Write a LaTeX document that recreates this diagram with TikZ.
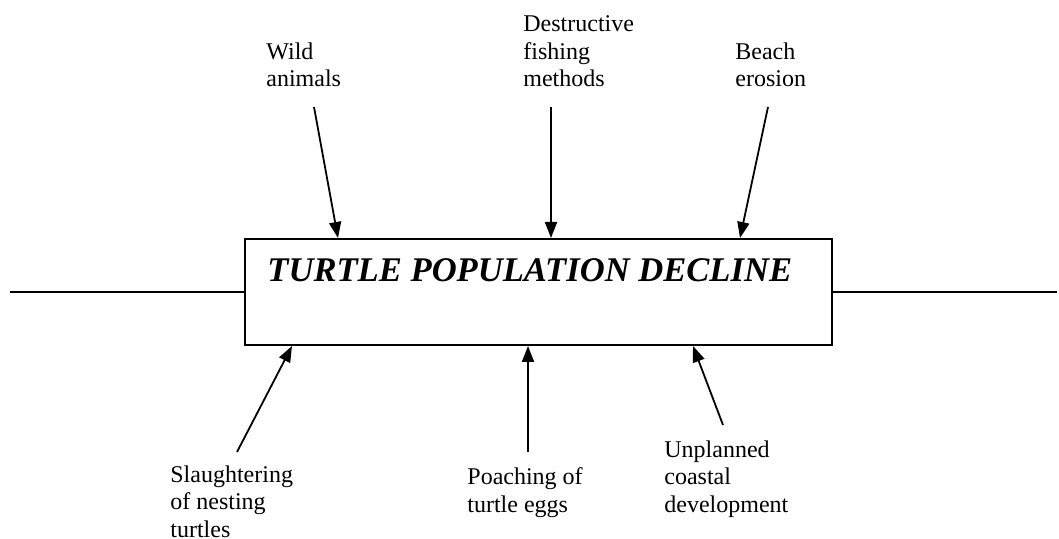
\documentclass[tikz,border=0pt]{standalone}
\usepackage{fontspec}
\setmainfont{Liberation Serif}
\usetikzlibrary{arrows.meta}

\begin{document}
\begin{tikzpicture}[x=0.5pt, y=-0.5pt,
  cause/.style={anchor=base west, align=left, inner sep=0pt,
    font=\fontsize{12pt}{13.75pt}\selectfont},
  push/.style={line width=0.9pt, -{Triangle[length=8pt, width=6pt]}},
  effect/.style={draw, line width=1pt, minimum width=293.5pt,
    minimum height=53pt, inner sep=0pt}]
\useasboundingbox (0,0) rectangle (1059,539);

% the problem box and its spine
\node[effect] (box) at (538.5,292) {};
\node[anchor=base west, inner sep=0pt,
  font=\fontsize{17.3pt}{20pt}\selectfont\bfseries\itshape] (title) at (267,282)
  {TURTLE POPULATION DECLINE};
\coordinate (spinew) at (10,292);
\coordinate (spinee) at (1057,292);
\draw[line width=0.9pt] (spinew) -- (box.west);
\draw[line width=0.9pt] (box.east) -- (spinee);

% causes above (anchored at the last line)
\node[cause] (wild) at (266,87) {Wild\\animals};
\node[cause] (fish) at (523,87) {Destructive\\fishing\\methods};
\node[cause] (beach) at (735,87) {Beach\\erosion};
\coordinate (wildstart) at (314,107);
\coordinate (fishstart) at (551,107);
\coordinate (beachstart) at (768,107);
\coordinate (wildtip) at (338,0);
\coordinate (fishtip) at (551,0);
\coordinate (beachtip) at (740,0);
\draw[push] (wildstart) -- (wildtip |- box.north);
\draw[push] (fishstart) -- (fishtip |- box.north);
\draw[push] (beachstart) -- (beachtip |- box.north);

% causes below
\node[cause] (slaughter) at (170,537) {Slaughtering\\of nesting\\turtles};
\node[cause] (poach) at (467,512) {Poaching of\\turtle eggs};
\node[cause] (coast) at (664,512) {Unplanned\\coastal\\development};
\coordinate (slaughterstart) at (237,452);
\coordinate (poachstart) at (528,452);
\coordinate (coaststart) at (723,425);
\coordinate (slaughtertip) at (292,0);
\coordinate (poachtip) at (528,0);
\coordinate (coasttip) at (693,0);
\draw[push] (slaughterstart) -- (slaughtertip |- box.south);
\draw[push] (poachstart) -- (poachtip |- box.south);
\draw[push] (coaststart) -- (coasttip |- box.south);
\end{tikzpicture}
\end{document}
